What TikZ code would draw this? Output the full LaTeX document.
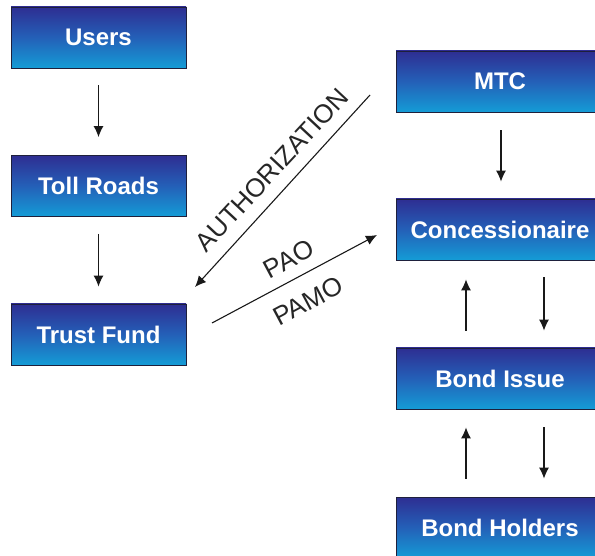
\documentclass[tikz,border=0pt]{standalone}
\usepackage{fontspec}
\setmainfont{Liberation Sans}
\usetikzlibrary{arrows.meta,calc}
\definecolor{boxtop}{RGB}{46,46,146}
\definecolor{boxmid}{RGB}{36,96,184}
\definecolor{boxbot}{RGB}{20,156,214}
\definecolor{boxedge}{RGB}{30,32,60}
\tikzset{
  flowbox/.style={draw=boxedge, line width=0.8pt,
    top color=boxtop, bottom color=boxbot, middle color=boxmid,
    minimum height=61pt, inner sep=0pt, text=white,
    font=\fontsize{24}{28}\selectfont\bfseries},
  leftbox/.style={flowbox, minimum width=175pt},
  rightbox/.style={flowbox, minimum width=208pt},
  flow/.style={draw=black!90, line width=1.1pt, -{Latex[length=11pt,width=10pt]}},
  lbl/.style={font=\fontsize{26}{30}\selectfont, text=black!85, inner sep=0pt},
}
\begin{document}
\begin{tikzpicture}[x=1pt,y=-1pt]
\clip (0,0) rectangle (595,556);
\useasboundingbox (0,0) rectangle (595,556);

% left column
\node[leftbox] (users) at (98.5,37.5) {Users};
\node[leftbox] (toll)  at (98.5,186)  {Toll Roads};
\node[leftbox] (trust) at (98.5,334.5) {Trust Fund};

% right column
\node[rightbox] (mtc)      at (500,81.5)  {MTC};
\node[rightbox] (conc)     at (500,229.5) {Concessionaire};
\node[rightbox] (bissue)   at (500,378.5) {Bond Issue};
\node[rightbox] (bholders) at (500,527.5) {Bond Holders};

% vertical flows
\draw[flow] ($(users.south)+(0,17)$) -- ($(toll.north)+(0,-18)$);
\draw[flow] ($(toll.south)+(0,17)$) -- ($(trust.north)+(0,-17)$);
\draw[flow] ($(mtc.south)+(1,18)$) -- ($(conc.north)+(1,-17)$);
\draw[flow] ($(conc.south)+(44,17)$) -- ($(bissue.north)+(44,-17)$);
\draw[flow] ($(bissue.north)+(-34,-17)$) -- ($(conc.south)+(-34,19)$);
\draw[flow] ($(bissue.south)+(44,18)$) -- ($(bholders.north)+(44,-18)$);
\draw[flow] ($(bholders.north)+(-34,-18)$) -- ($(bissue.south)+(-34,18)$);

% diagonal flows between the columns
\coordinate (authA) at (370,95);
\coordinate (authB) at (195,287);
\coordinate (paoA) at (212,323);
\coordinate (paoB) at (377,235);
\draw[flow] (authA) -- (authB);
\draw[flow] (paoA) -- (paoB);

\node[lbl, rotate=47] (authlbl) at (272,170) {AUTHORIZATION};
\node[lbl, rotate=28] (paolbl)  at (289,259) {PAO};
\node[lbl, rotate=28] (pamolbl) at (308,301) {PAMO};
\end{tikzpicture}
\end{document}
